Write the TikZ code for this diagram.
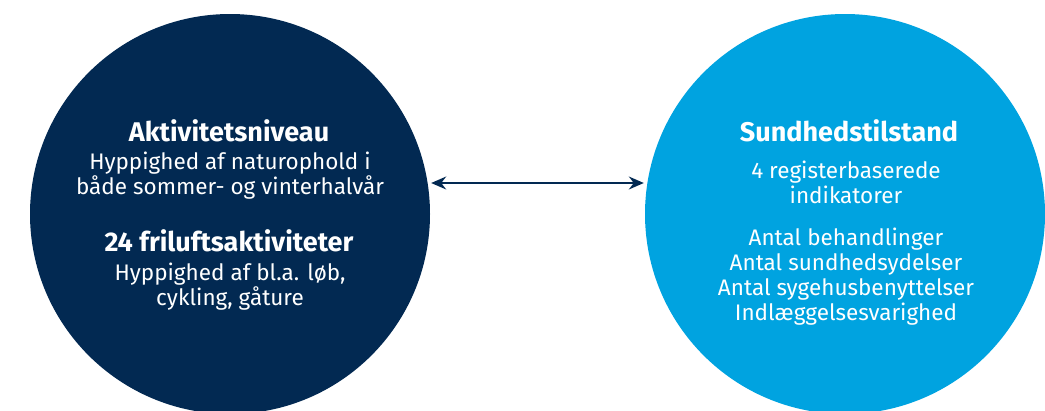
\documentclass[tikz,border=0pt]{standalone}
\usepackage{fontspec}
\setmainfont{Fira Sans}
\usetikzlibrary{arrows.meta}
\definecolor{navy}{RGB}{2,41,82}
\definecolor{sky}{RGB}{0,163,224}
\tikzset{
  blob/.style={circle,minimum size=400pt,inner sep=0pt},
  head/.style={text=white,font=\fontsize{27}{30}\selectfont\bfseries},
  body/.style={text=white,align=center,font=\fontsize{22.5}{25}\selectfont},
  link/.style={draw=navy,line width=1.5pt,{Stealth[length=15pt,width=13pt,inset=5pt]}-{Stealth[length=15pt,width=13pt,inset=5pt]},shorten <=1pt,shorten >=1pt},
}
\begin{document}
\begin{tikzpicture}[x=1pt,y=1pt]
\useasboundingbox (0,0) rectangle (1045,-410);
\node[blob,fill=navy] (niveau) at (230,-214) {};
\node[blob,fill=sky] (tilstand) at (845,-214) {};
\draw[link,transform canvas={yshift=31pt}] (niveau) -- (tilstand);
\node[head] (niveauhead) at (229,-131) {Aktivitetsniveau};
\node[body] (niveautext) at (230,-176) {Hyppighed af naturophold i\\både sommer- og vinterhalvår};
\node[head] (frihead) at (229,-241) {24 friluftsaktiviteter};
\node[body] (fritext) at (230,-286.5) {Hyppighed af bl.a. løb,\\cykling, gåture};
\node[head] (tilstandhead) at (849,-131) {Sundhedstilstand};
\node[body] (indtext) at (846,-182) {4 registerbaserede\\indikatorer};
\node[body] (listtext) at (846,-276.5) {Antal behandlinger\\Antal sundhedsydelser\\Antal sygehusbenyttelser\\Indlæggelsesvarighed};
\end{tikzpicture}
\end{document}
